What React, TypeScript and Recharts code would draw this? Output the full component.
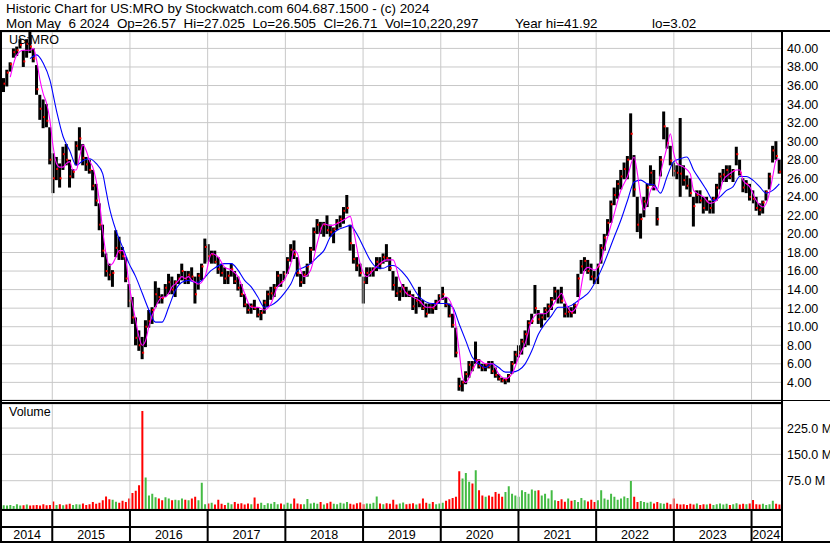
import React from "react";
import { ComposedChart, Bar, Line, XAxis, YAxis, CartesianGrid, ReferenceLine, Cell } from "recharts";

const FONT = '"Liberation Sans", Arial, sans-serif';

// Semi-monthly price bars (low / high / close), May 2014 .. May 2024
const LO = [
  35.3,35.9,37.5,39.0,39.2,40.0,38.0,39.0,39.5,38.5, 35.0,32.3,31.4,31.5,27.5,24.4,25.8,25.0,26.9,27.4,
  25.0,26.0,27.4,29.0,27.4,26.8,26.5,24.7,23.0,20.4, 17.5,15.4,15.0,14.3,17.5,17.2,17.2,14.8,12.1,10.3,
  8.0,7.4,6.5,7.8,9.9,10.3,12.1,12.5,12.5,13.2, 13.5,13.5,13.2,14.6,15.0,14.6,14.6,15.0,12.5,
  14.0,15.0,16.8,17.0,16.8,16.8,15.7,15.4,14.6,14.6, 15.4,14.6,13.9,13.2,12.1,11.4,11.4,11.8,11.0,10.7,
  11.4,12.1,12.9,13.2,14.3,14.3,15.0,15.7,17.0,17.3, 15.4,14.3,14.6,15.4,16.8,18.2,20.0,20.0,19.7,20.0,
  19.7,19.0,20.4,20.7,21.1,22.2,18.2,16.8,16.0,15.4, 12.5,14.6,15.4,15.4,16.0,16.2,16.8,17.0,16.0,
  13.9,13.2,12.8,13.2,13.2,13.2,11.8,11.4,12.1,11.8, 11.0,11.4,11.4,11.8,12.5,12.9,12.1,11.0,9.9,6.7,
  3.1,3.02,3.8,4.5,5.2,6.0,5.5,5.2,5.2,5.5, 4.9,4.5,4.2,4.0,3.8,4.0,4.9,6.0,6.7,7.0,
  7.8,8.0,10.3,11.4,10.3,9.9,10.7,11.0,11.8,12.9, 12.5,12.5,11.0,11.0,11.0,11.4,13.2,15.7,16.0,
  15.7,15.0,14.6,14.6,16.8,18.2,19.8,21.2,23.1,23.8, 24.8,25.9,25.9,28.0,24.0,20.2,19.5,21.8,22.9,25.2,
  24.7,20.9,26.2,30.2,29.2,27.4,26.2,25.9,24.0,25.2, 24.8,24.0,20.8,23.3,23.3,22.2,22.5,22.2,22.2,23.6,
  24.8,25.6,25.6,25.9,25.6,27.4,26.3,24.5,24.4,23.6, 23.3,22.5,22.0,22.2,23.6,24.8,27.7,28.0,26.5,
];
const HI = [
  36.8,37.7,38.5,40.0,40.2,41.0,39.8,41.0,41.9,40.0, 38.2,35.0,34.5,34.0,31.5,28.7,28.3,27.6,29.4,29.7,
  28.0,27.0,30.0,31.5,29.7,28.3,28.0,26.9,25.4,23.3, 21.0,17.9,16.8,16.1,20.4,19.7,18.6,17.5,14.6,13.2,
  11.0,9.6,8.9,10.7,11.8,12.1,14.9,14.2,13.5,14.6, 15.7,15.4,15.0,15.7,16.8,16.0,16.0,16.4,15.4,
  15.8,16.8,19.5,18.9,18.2,18.2,17.5,16.8,16.4,16.0, 16.8,16.0,15.4,14.6,13.5,12.5,12.5,12.9,12.1,11.8,
  12.9,13.9,14.3,14.6,16.0,15.7,16.0,17.5,18.9,19.3, 17.5,15.7,16.0,16.8,18.6,20.7,21.6,21.3,21.3,22.0,
  21.0,20.7,21.6,22.0,22.9,24.2,21.0,18.9,17.5,16.8, 15.4,16.4,16.4,16.4,17.5,17.5,17.9,18.9,17.5,
  16.0,15.4,14.3,14.6,14.3,13.9,13.5,13.2,14.3,12.9, 12.5,12.5,12.5,12.9,13.5,14.3,13.2,12.5,11.4,9.9,
  4.5,4.2,5.2,6.3,6.3,8.4,6.5,6.0,6.0,6.3, 6.3,5.6,4.9,4.5,4.5,4.9,6.3,7.4,8.0,8.7,
  9.6,10.7,11.4,14.5,11.8,11.4,12.1,12.5,13.2,14.3, 14.0,14.3,12.5,12.1,12.1,12.5,15.7,17.2,17.5,
  17.2,16.8,16.0,16.8,18.9,20.0,21.6,23.6,25.0,25.8, 26.9,27.7,28.4,33.0,28.5,24.0,22.2,24.0,25.4,27.4,
  26.9,22.9,28.4,33.2,31.5,29.5,27.7,27.4,32.5,27.4, 26.3,26.0,24.0,24.7,24.7,24.0,24.0,23.6,24.0,25.4,
  26.6,27.0,27.4,27.4,27.0,29.4,28.0,26.0,25.8,25.4, 24.7,24.0,23.3,23.6,24.7,26.6,29.5,30.0,28.0,
];
const CL = [
  36.2,37.4,38.3,39.6,39.8,40.4,38.6,40.5,40.2,38.9, 35.6,33.5,32.6,32.2,28.0,26.0,27.0,26.0,28.6,28.0,
  26.2,26.7,29.5,30.3,28.2,27.5,26.9,25.2,23.6,21.0, 18.2,16.0,15.6,15.8,18.5,18.0,17.6,15.2,12.8,11.0,
  8.8,8.0,7.2,10.0,10.6,11.8,13.5,13.2,13.1,14.2, 14.8,14.0,14.8,15.2,16.0,15.2,15.6,15.4,13.5,
  15.5,16.5,18.6,17.6,17.8,17.0,16.2,15.8,15.2,15.5, 16.2,14.9,14.2,13.5,12.4,11.8,12.2,12.0,11.3,11.5,
  12.6,13.5,13.6,14.2,15.5,14.8,15.7,17.2,18.3,17.8, 15.8,14.8,15.6,16.5,18.3,20.2,21.0,20.6,21.0,20.4,
  20.2,20.5,21.2,21.6,22.5,22.8,19.0,17.3,16.6,15.8, 14.8,15.8,15.9,16.2,17.0,16.8,17.5,17.4,16.3,
  14.5,13.6,13.8,14.2,13.6,13.4,12.2,12.8,12.6,12.0, 11.4,12.1,12.0,12.6,13.3,13.5,12.4,11.2,10.2,7.2,
  3.6,4.0,4.9,5.9,5.6,6.4,5.8,5.6,5.9,5.7, 5.2,4.8,4.4,4.2,4.3,4.7,6.0,7.0,7.3,8.4,
  9.2,10.4,10.6,12.0,10.8,11.0,11.8,12.2,12.9,13.8, 13.2,12.8,11.4,11.6,11.5,12.3,15.2,16.5,17.1,
  16.0,15.4,15.2,16.5,18.5,19.6,21.2,23.2,24.2,25.4, 26.2,27.0,28.0,30.8,24.8,21.0,21.6,23.5,25.0,26.6,
  25.2,21.6,28.0,31.6,29.8,27.9,26.8,26.6,26.5,25.8, 25.2,24.4,23.0,24.2,23.6,22.8,23.5,22.8,23.8,25.0,
  26.2,26.4,26.9,26.2,26.8,28.6,26.6,25.0,25.4,24.0, 23.8,22.8,22.6,23.4,24.5,26.2,29.0,28.4,26.71,
];
// Volume, millions of shares
const VOL = [
  5,4,6,3,8,4,5,7,4,5, 6,4,8,5,6,16,6,8,5,7, 9,6,8,7,10,6,8,14,9,12,
  19,30,22,21,15,12,18,14,24,40, 46,62,274,84,33,38,28,24,19,28, 24,19,21,19,24,21,19,24,29,19,
  69,8,10,12,7,21,9,6,12,8, 14,9,11,7,10,8,27,9,12,6, 11,9,14,8,10,7,12,9,24,10,
  8,8,23,10,12,9,14,7,11,15, 9,8,12,10,14,9,7,11,13,8, 10,9,12,30,10,8,11,9,21,7,
  10,13,8,9,11,7,10,24,12,9, 14,8,10,12,18,22,26,29,102,81, 97,72,67,105,48,33,29,33,29,43,
  38,29,43,59,38,33,29,48,43,38, 50,46,48,33,38,24,48,19,17,22, 15,24,18,20,14,26,19,16,21,14,
  19,48,24,21,38,29,21,24,30,26, 74,29,14,17,14,12,15,10,14,11, 9,12,8,24,9,7,8,6,9,7,
  10,6,8,7,9,6,8,10,7,9, 6,8,11,7,9,8,10,20,8,7, 9,6,8,18,9,7,
];
// Moving averages, [bar index, value]
const MA_SHORT: [number, number][] = [
  [2,36.9],[4,39.3],[6,39.8],[8,39.8],[9,40.0],[10,38.7],[11,36.6],[12,35.1],[13,34.1],[14,32.3],[15,29.4],[16,27.6],[17,27.2],[18,27.2],[19,27.6],[20,27.8],[21,26.9],[22,26.9],[23,28.3],[24,29.6],[25,29.0],[26,27.9],[27,27.2],[28,25.8],[29,23.6],[30,20.4],[31,17.9],[32,16.6],[33,16.8],[34,17.5],[35,18.2],[36,18.2],[37,17.2],[38,14.6],[39,12.5],[40,10.7],[41,8.9],[42,8.0],[43,8.5],[44,10.0],[45,11.2],[46,12.1],[47,12.8],[48,13.2],[49,13.2],[50,13.6],[51,14.3],[52,14.6],[53,15.0],[54,15.4],[55,15.2],[56,15.4],[57,15.0],[58,14.8],
  [59,14.6],[61,15.4],[63,17.9],[65,17.5],[67,16.4],[69,16.1],[71,15.4],[73,13.6],[75,12.1],[77,12.1],[79,11.8],[81,12.5],[83,14.3],[85,15.0],[87,16.8],[88,18.2],[89,17.9],[90,16.1],[91,15.4],[93,16.1],[95,19.0],[97,21.1],[99,20.9],[101,21.1],[103,21.5],[105,21.9],[106,20.4],[108,16.8],[110,15.4],[112,16.1],[114,16.8],[116,17.2],
  [118,17.2],[120,15.0],[122,13.6],[124,13.2],[126,12.8],[128,12.1],[130,12.1],[132,12.8],[134,13.2],[136,12.1],[138,7.4],[139,4.6],[140,4.0],[142,5.3],[144,6.4],[146,6.0],[148,6.0],[150,4.9],[152,4.4],[154,4.9],[156,6.7],[158,8.2],[160,10.7],[162,11.4],[164,11.4],[166,12.1],[168,13.2],[169,13.6],[170,12.8],[172,11.6],[174,12.5],[176,16.1],
  [177,16.4],[179,16.1],[181,17.2],[183,19.7],[185,22.2],[187,24.7],[189,26.2],[191,28.3],[192,26.5],[193,24.0],[194,22.6],[195,23.3],[196,24.7],[197,25.1],[198,24.7],[199,26.5],[201,29.4],[202,30.8],[203,28.7],[204,27.6],[206,27.2],[208,26.5],[209,24.7],[210,24.4],[212,24.0],[214,23.3],[216,23.6],[218,25.8],[220,26.5],[222,26.9],[223,26.9],[224,25.8],[226,25.1],[228,23.6],[230,22.9],[232,24.4],[233,26.2],[234,27.9],[235,28.1],
];
const MA_LONG: [number, number][] = [
  [8,38.9],[10,39.3],[12,38.4],[14,36.6],[16,33.3],[18,30.5],[20,29.0],[22,27.4],[24,27.9],[26,28.1],[28,27.6],[30,26.5],[31,24.7],[32,22.9],[34,20.4],[36,18.6],[38,16.8],[40,15.4],[42,13.6],[44,11.8],[46,10.5],[48,10.5],[50,12.1],[52,13.9],[54,14.8],[56,15.0],[58,14.8],
  [59,14.8],[63,16.1],[67,16.8],[69,16.8],[71,16.1],[73,15.0],[75,14.3],[77,13.2],[79,12.1],[81,12.3],[83,12.8],[85,13.6],[87,14.6],[89,16.1],[91,16.4],[93,16.8],[95,17.5],[97,18.2],[99,19.7],[101,20.4],[103,20.7],[105,20.9],[107,20.0],[109,18.6],[111,17.2],[113,16.4],[115,16.3],[117,16.6],
  [118,16.6],[122,15.4],[126,13.2],[130,12.5],[134,12.5],[136,12.1],[138,10.3],[140,8.5],[142,6.7],[144,6.0],[146,5.6],[148,6.0],[150,5.6],[152,5.1],[154,5.1],[156,5.3],[158,6.0],[160,7.4],[162,9.2],[164,10.3],[166,11.2],[168,12.1],[170,12.1],[172,12.3],[174,12.8],[176,13.3],
  [177,13.6],[181,16.1],[185,19.7],[187,21.5],[189,23.6],[191,25.6],[193,25.8],[195,25.4],[197,25.3],[199,24.4],[201,26.2],[203,27.8],[205,28.1],[207,28.3],[209,26.9],[211,25.8],[213,24.7],[215,23.6],[217,24.0],[219,24.7],[221,25.1],[223,26.2],[225,26.2],[227,25.8],[229,25.1],[231,24.4],[233,24.7],[235,25.4],
];

const PRICE_TICKS = [4,6,8,10,12,14,16,18,20,22,24,26,28,30,32,34,36,38,40];
const VOL_TICKS = [75,150,225];
const YEARS = [2014,2015,2016,2017,2018,2019,2020,2021,2022,2023,2024];
const DATE_DOMAIN: [number, number] = [2014.353, 2024.379];
const PRICE_DOMAIN: [number, number] = [2.1, 41.77];
const VOL_DOMAIN: [number, number] = [-5.7, 293.7];

const N = LO.length;
const STEP = (DATE_DOMAIN[1] - DATE_DOMAIN[0]) / N;
const rows = LO.map((lo, i) => ({
  i, t: DATE_DOMAIN[0] + (i + 0.5) * STEP,
  lo, hi: HI[i], c: CL[i], v: VOL[i],
  up: i === 0 || CL[i] >= CL[i - 1],
  m1: null as number | null, m2: null as number | null,
}));
MA_SHORT.forEach(([i, v]) => { rows[i].m1 = v; });
MA_LONG.forEach(([i, v]) => { rows[i].m2 = v; });

const boundaries = YEARS.filter((y) => y > DATE_DOMAIN[0] && y < DATE_DOMAIN[1]);
const labelCenters = YEARS.map((y) => (Math.max(y, DATE_DOMAIN[0]) + Math.min(y + 1, DATE_DOMAIN[1])) / 2);
const axisTicks = [...boundaries, ...labelCenters].sort((a, b) => a - b);

// volume chart geometry
const VOL_CHART_H = 139;
const VOL_AXIS_H = 34;
const VOL_PLOT_BOTTOM = VOL_CHART_H - VOL_AXIS_H;

const PriceBar = (props: any) => {
  const { x, y, width, height, payload } = props;
  if (y == null || isNaN(y) || !payload) return null;
  const top = height < 0 ? y + height : y;
  const h = Math.abs(height);
  const span = payload.hi - payload.lo || 1;
  const cy = top + ((payload.hi - payload.c) / span) * h;
  const w = Math.max(1.5, width);
  return (
    <g>
      <rect x={x} y={top} width={w} height={Math.max(h, 1)} fill="#000" />
      <rect x={x + w - 1.5} y={cy - 1} width={2} height={2} fill="#ff0000" />
    </g>
  );
};

const YearTick = (props: any) => {
  const { x, payload } = props;
  const v = payload.value;
  if (Number.isInteger(v)) return <rect x={x - 1} y={VOL_PLOT_BOTTOM + 1} width={2} height={31} fill="#000" />;
  return (
    <text x={x} y={VOL_PLOT_BOTTOM + 30} textAnchor="middle" fontSize={12.5} fill="#000" fontFamily={FONT}>
      {Math.floor(v)}
    </text>
  );
};

const RightTick = (props: any) => {
  const { x, y, payload, fmt } = props;
  return (
    <text x={x} y={y} dy="0.355em" textAnchor="start" fontSize={12.5} fill="#000" fontFamily={FONT}>
      {fmt(payload.value)}
    </text>
  );
};
const fmtPrice = (v: number) => v.toFixed(2);
const fmtVol = (v: number) => v.toFixed(1) + " M";

const hline = (top: number, left: number, width: number, height: number) => (
  <div style={{ position: "absolute", top, left, width, height, background: "#000" }} />
);

const hdr = { position: "absolute" as const, fontSize: 13.4, lineHeight: "15px", whiteSpace: "pre" as const, color: "#000" };

export default function App() {
  return (
    <div style={{ position: "absolute", top: 0, left: 0, width: 830, height: 543, background: "#fff", overflow: "hidden", fontFamily: FONT }}>
      <div style={{ ...hdr, left: 6, top: 1 }}>{"Historic Chart for US:MRO by Stockwatch.com 604.687.1500 - (c) 2024"}</div>
      <div style={{ ...hdr, left: 6, top: 16 }}>{"Mon May  6 2024  Op=26.57  Hi=27.025  Lo=26.505  Cl=26.71  Vol=10,220,297"}</div>
      <div style={{ ...hdr, left: 515, top: 16 }}>{"Year hi=41.92"}</div>
      <div style={{ ...hdr, left: 652, top: 16 }}>{"lo=3.02"}</div>

      <div style={{ position: "absolute", top: 32, left: 0 }}>
        <ComposedChart width={830} height={368} data={rows} margin={{ top: 0, right: 0, bottom: 0, left: 2 }} barCategoryGap={0}>
          <XAxis xAxisId="idx" dataKey="i" type="category" hide />
          <XAxis xAxisId="yr" dataKey="t" type="number" domain={DATE_DOMAIN} allowDataOverflow hide />
          <YAxis yAxisId="p" orientation="right" type="number" domain={PRICE_DOMAIN} allowDataOverflow ticks={PRICE_TICKS} interval={0}
            width={49} tickSize={0} tickMargin={6} axisLine={false} tickLine={false} tick={<RightTick fmt={fmtPrice} />} />
          <CartesianGrid xAxisId="idx" yAxisId="p" vertical={false} stroke="#c8c8c8" />
          {boundaries.map((y) => (
            <ReferenceLine key={y} xAxisId="yr" yAxisId="p" x={y} stroke="#c8c8c8" />
          ))}
          <Line xAxisId="yr" yAxisId="p" dataKey="c" stroke="none" dot={false} activeDot={false} legendType="none" isAnimationActive={false} />
          <Bar xAxisId="idx" yAxisId="p" dataKey={(d: any) => [d.lo, d.hi]} shape={PriceBar} isAnimationActive={false} />
          <Line xAxisId="idx" yAxisId="p" dataKey="m2" stroke="#0000ff" strokeWidth={1.1} dot={false} connectNulls type="monotone" isAnimationActive={false} />
          <Line xAxisId="idx" yAxisId="p" dataKey="m1" stroke="#ff00ff" strokeWidth={1.1} dot={false} connectNulls type="monotone" isAnimationActive={false} />
        </ComposedChart>
      </div>

      <div style={{ position: "absolute", top: 404, left: 0 }}>
        <ComposedChart width={830} height={VOL_CHART_H} data={rows} margin={{ top: 0, right: 0, bottom: 0, left: 2 }} barCategoryGap="22%">
          <XAxis xAxisId="idx" dataKey="i" type="category" hide />
          <XAxis xAxisId="yr" dataKey="t" type="number" domain={DATE_DOMAIN} allowDataOverflow ticks={axisTicks} interval={0} height={VOL_AXIS_H}
            tickSize={0} tickMargin={0} axisLine={false} tickLine={false} tick={<YearTick />} />
          <YAxis yAxisId="v" orientation="right" type="number" domain={VOL_DOMAIN} allowDataOverflow ticks={VOL_TICKS} interval={0}
            width={49} tickSize={0} tickMargin={6} axisLine={false} tickLine={false} tick={<RightTick fmt={fmtVol} />} />
          <CartesianGrid xAxisId="idx" yAxisId="v" vertical={false} stroke="#c8c8c8" />
          {boundaries.map((y) => (
            <ReferenceLine key={y} xAxisId="yr" yAxisId="v" x={y} stroke="#c8c8c8" />
          ))}
          <Line xAxisId="yr" yAxisId="v" dataKey="v" stroke="none" dot={false} activeDot={false} legendType="none" isAnimationActive={false} />
          <Bar xAxisId="idx" yAxisId="v" dataKey={(d: any) => [VOL_DOMAIN[0], d.v]} isAnimationActive={false}>
            {rows.map((r) => (
              <Cell key={r.i} fill={r.up ? "#44bb44" : "#ff0000"} />
            ))}
          </Bar>
        </ComposedChart>
      </div>

      <div style={{ position: "absolute", left: 9, top: 33, fontSize: 12.5, color: "#000" }}>US:MRO</div>
      <div style={{ position: "absolute", left: 9, top: 405, fontSize: 12.5, color: "#000" }}>Volume</div>

      {hline(30, 0, 830, 2)}
      {hline(30, 0, 2, 513)}
      {hline(30, 781, 2, 513)}
      {hline(400, 0, 830, 1)}
      {hline(402, 0, 783, 2)}
      {hline(509, 0, 783, 2)}
      {hline(526, 0, 783, 2)}
      {hline(541, 0, 830, 2)}
    </div>
  );
}
